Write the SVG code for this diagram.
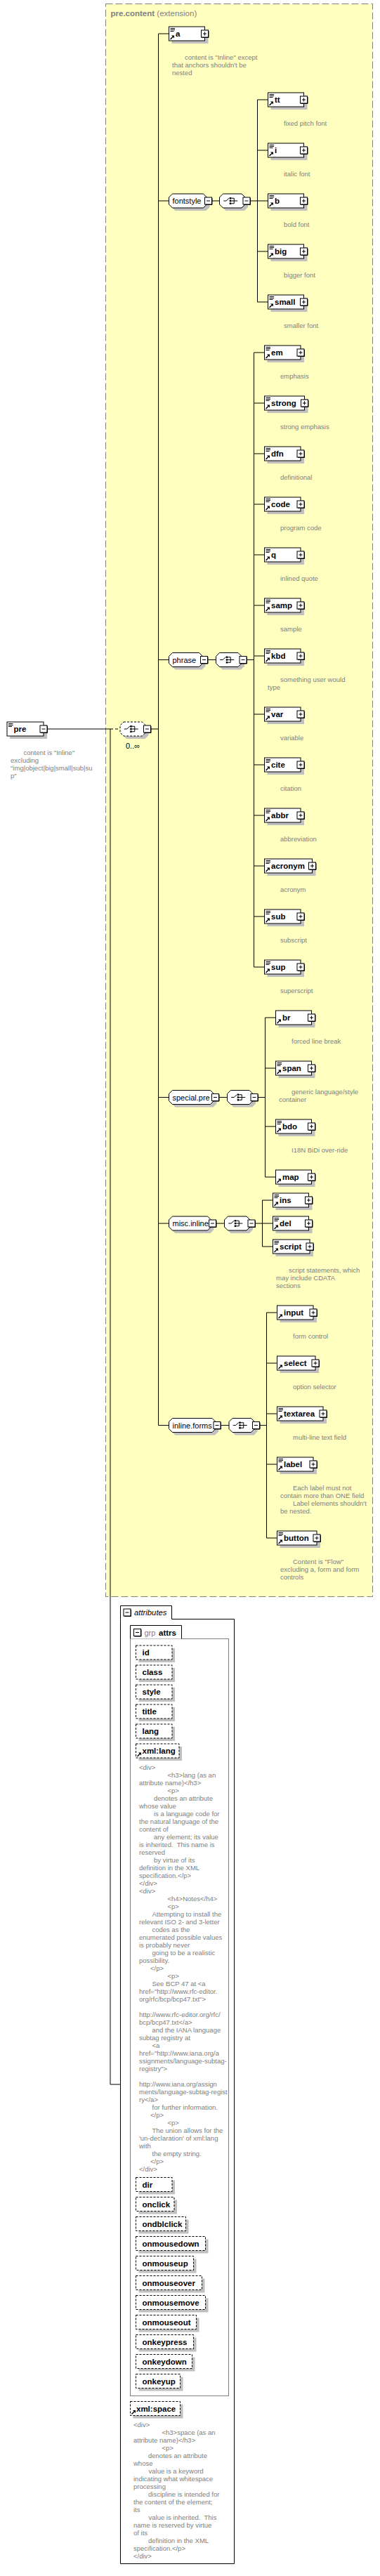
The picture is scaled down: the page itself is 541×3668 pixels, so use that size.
<svg xmlns="http://www.w3.org/2000/svg" width="541" height="3668" viewBox="0 0 541 3668">
<style>
.bg{fill:#fff}
.ybox{fill:#ffffc0;stroke:#808080;stroke-width:1;stroke-dasharray:10,4}
.box{fill:#fff;stroke:#000;stroke-width:1}
.shd{fill:#c0c0c0}
.att{fill:#fff;stroke:#000;stroke-width:1;stroke-dasharray:3,2}
.lbl{font-family:"Liberation Sans",Arial,sans-serif;font-size:11.5px;font-weight:bold;fill:#000}
.gl{font-family:"Liberation Sans",Arial,sans-serif;font-size:11px;fill:#000}
.ann{font-family:"Liberation Sans",Arial,sans-serif;font-size:9.5px;fill:#808080}
.ttl{font-family:"Liberation Sans",Arial,sans-serif;font-size:11.5px;fill:#808080}
.conn{fill:none;stroke:#000;stroke-width:1}
</style>
<defs>
<g id="eq"><path d="M2,2.5H8.5M2,4.5H8.5M2,6.5H7" stroke="#000" stroke-width="1" fill="none"/></g>
<g id="arr"><path d="M2,-2L5.5,-5.5" stroke="#000" stroke-width="1.5" fill="none"/><path d="M3.5,-7.5H7.5V-3.5Z" fill="#000"/></g>
<g id="plus"><rect x="0.5" y="0.5" width="10" height="10" fill="#fff" stroke="#000"/><path d="M11,1.5V11H1.5" stroke="#000" fill="none"/><path d="M3,5.5H8M5.5,3V8" stroke="#000" fill="none"/></g>
<g id="minus"><rect x="0.5" y="0.5" width="10" height="10" fill="#fff" stroke="#000"/><path d="M11,1.5V11H1.5" stroke="#000" fill="none"/><path d="M3,5.5H8" stroke="#000" fill="none"/></g>
<g id="chc"><path d="M-11,0H-7L-3,-4" stroke="#000" fill="none"/><rect x="-2.5" y="-5" width="2.5" height="2.5" fill="#000"/><rect x="-2.5" y="-1.25" width="2.5" height="2.5" fill="#000"/><rect x="-2.5" y="2.5" width="2.5" height="2.5" fill="#000"/><path d="M0,-3.75H4V3.75H0M0,0H9" stroke="#000" fill="none"/></g>
</defs>
<rect class="bg" x="0" y="0" width="541" height="3668"/>

<g id="pre.content">
<rect class="ybox" x="150.5" y="5.5" width="380" height="2268"/>
<text class="ttl" x="157.5" y="23"><tspan font-weight="bold">pre.content</tspan> (extension)</text>
</g>

<g id="connectors">
<path class="conn" d="M67,1038H157"/>
<path class="conn" d="M157,1038H171" stroke-dasharray="4,3"/>
<path class="conn" d="M157,1038V2968H171.5"/>
<path class="conn" d="M214.5,1038H225.5"/>
<path class="conn" d="M225.5,48V2029.5M225.5,48H240.5M225.5,286H240.5M225.5,939.5H240.5M225.5,1562.5H240.5M225.5,1742H240.5M225.5,2029.5H240.5"/>
<path class="conn" d="M301.5,286H312.5M356,286H366.5M366.5,142V430M366.5,142H381.5M366.5,214H381.5M366.5,286H381.5M366.5,358H381.5M366.5,430H381.5"/>
<path class="conn" d="M295.5,939.5H307.5M351,939.5H361.5M361.5,502V1377M361.5,502H376.5M361.5,574H376.5M361.5,646H376.5M361.5,718H376.5M361.5,790H376.5M361.5,862H376.5M361.5,934H376.5M361.5,1017H376.5M361.5,1089H376.5M361.5,1161H376.5M361.5,1233H376.5M361.5,1305H376.5M361.5,1377H376.5"/>
<path class="conn" d="M311.5,1562.5H323.5M367,1562.5H377.5M377.5,1449V1676M377.5,1449H392.5M377.5,1521H392.5M377.5,1604H392.5M377.5,1676H392.5"/>
<path class="conn" d="M307.5,1742H319.5M363,1742H373.5M373.5,1709V1775M373.5,1709H388.5M373.5,1742H388.5M373.5,1775H388.5"/>
<path class="conn" d="M314,2029.5H326M369.5,2029.5H379.5M379.5,1869V2190M379.5,1869H394.5M379.5,1941H394.5M379.5,2013H394.5M379.5,2085H394.5M379.5,2190H394.5"/>
</g>

<g id="pre">
<rect class="shd" x="14" y="1032" width="53" height="20"/>
<rect class="box" x="10" y="1028" width="52" height="20"/>
<use href="#eq" x="10" y="1028"/>
<text class="lbl" x="19.5" y="1042">pre</text>
<use href="#minus" x="56.5" y="1032.5"/>
<text class="ann" x="33.5" y="1075">content is "Inline"</text>
<text class="ann" x="15" y="1086">excluding</text>
<text class="ann" x="15" y="1097">"img|object|big|small|sub|su</text>
<text class="ann" x="15" y="1108">p"</text>
</g>

<g id="choice-main">
<polygon class="shd" transform="translate(4,4)" points="176,1028 202.5,1028 207.5,1033 207.5,1043 202.5,1048 176,1048 171,1043 171,1033"/>
<polygon class="box" stroke-dasharray="3,2" points="176,1028 202.5,1028 207.5,1033 207.5,1043 202.5,1048 176,1048 171,1043 171,1033"/>
<use href="#chc" x="187.75" y="1038"/>
<use href="#minus" x="204" y="1032.5"/>
<text class="gl" x="179" y="1066">0..∞</text>
</g>

<g id="a">
<rect class="shd" x="244.5" y="42" width="52" height="20"/>
<rect class="box" x="240.5" y="38" width="51" height="20"/>
<use href="#eq" x="240.5" y="38"/><use href="#arr" x="240.5" y="58"/>
<text class="lbl" x="250" y="52">a</text>
<use href="#plus" x="286" y="42.5"/>
<text class="ann" x="263" y="85">content is "Inline" except</text>
<text class="ann" x="245" y="96">that anchors shouldn't be</text>
<text class="ann" x="245" y="107">nested</text>
</g>

<g id="fontstyle">
<polygon class="shd" transform="translate(4,4)" points="245.5,276 289.5,276 294.5,281 294.5,291 289.5,296 245.5,296 240.5,291 240.5,281"/>
<polygon class="box" points="245.5,276 289.5,276 294.5,281 294.5,291 289.5,296 245.5,296 240.5,291 240.5,281"/>
<text class="gl" x="245.5" y="290">fontstyle</text>
<use href="#minus" x="291" y="280.5"/>
</g>
<g id="fontstyle-choice">
<polygon class="shd" transform="translate(4,4)" points="317.5,276 344,276 349,281 349,291 344,296 317.5,296 312.5,291 312.5,281"/>
<polygon class="box" points="317.5,276 344,276 349,281 349,291 344,296 317.5,296 312.5,291 312.5,281"/>
<use href="#chc" x="329.25" y="286"/>
<use href="#minus" x="345.5" y="280.5"/>
</g>

<g id="tt"><rect class="shd" x="385.5" y="136" width="52" height="20"/><rect class="box" x="381.5" y="132" width="51" height="20"/><use href="#eq" x="381.5" y="132"/><use href="#arr" x="381.5" y="152"/><text class="lbl" x="391" y="146">tt</text><use href="#plus" x="427" y="136.5"/><text class="ann" x="404" y="179">fixed pitch font</text></g>
<g id="i"><rect class="shd" x="385.5" y="208" width="52" height="20"/><rect class="box" x="381.5" y="204" width="51" height="20"/><use href="#eq" x="381.5" y="204"/><use href="#arr" x="381.5" y="224"/><text class="lbl" x="391" y="218">i</text><use href="#plus" x="427" y="208.5"/><text class="ann" x="404" y="251">italic font</text></g>
<g id="b"><rect class="shd" x="385.5" y="280" width="52" height="20"/><rect class="box" x="381.5" y="276" width="51" height="20"/><use href="#eq" x="381.5" y="276"/><use href="#arr" x="381.5" y="296"/><text class="lbl" x="391" y="290">b</text><use href="#plus" x="427" y="280.5"/><text class="ann" x="404" y="323">bold font</text></g>
<g id="big"><rect class="shd" x="385.5" y="352" width="52" height="20"/><rect class="box" x="381.5" y="348" width="51" height="20"/><use href="#eq" x="381.5" y="348"/><use href="#arr" x="381.5" y="368"/><text class="lbl" x="391" y="362">big</text><use href="#plus" x="427" y="352.5"/><text class="ann" x="404" y="395">bigger font</text></g>
<g id="small"><rect class="shd" x="385.5" y="424" width="52" height="20"/><rect class="box" x="381.5" y="420" width="51" height="20"/><use href="#eq" x="381.5" y="420"/><use href="#arr" x="381.5" y="440"/><text class="lbl" x="391" y="434">small</text><use href="#plus" x="427" y="424.5"/><text class="ann" x="404" y="467">smaller font</text></g>

<g id="phrase">
<polygon class="shd" transform="translate(4,4)" points="245.5,929.5 283.5,929.5 288.5,934.5 288.5,944.5 283.5,949.5 245.5,949.5 240.5,944.5 240.5,934.5"/>
<polygon class="box" points="245.5,929.5 283.5,929.5 288.5,934.5 288.5,944.5 283.5,949.5 245.5,949.5 240.5,944.5 240.5,934.5"/>
<text class="gl" x="245.5" y="943.5">phrase</text>
<use href="#minus" x="285" y="934"/>
</g>
<g id="phrase-choice">
<polygon class="shd" transform="translate(4,4)" points="312.5,929.5 339,929.5 344,934.5 344,944.5 339,949.5 312.5,949.5 307.5,944.5 307.5,934.5"/>
<polygon class="box" points="312.5,929.5 339,929.5 344,934.5 344,944.5 339,949.5 312.5,949.5 307.5,944.5 307.5,934.5"/>
<use href="#chc" x="324.25" y="939.5"/>
<use href="#minus" x="340.5" y="934"/>
</g>

<g id="em"><rect class="shd" x="380.5" y="496" width="52.5" height="20"/><rect class="box" x="376.5" y="492" width="51.5" height="20"/><use href="#eq" x="376.5" y="492"/><use href="#arr" x="376.5" y="512"/><text class="lbl" x="386" y="506">em</text><use href="#plus" x="422.5" y="496.5"/><text class="ann" x="399" y="539">emphasis</text></g>
<g id="strong"><rect class="shd" x="380.5" y="568" width="58" height="20"/><rect class="box" x="376.5" y="564" width="57" height="20"/><use href="#eq" x="376.5" y="564"/><use href="#arr" x="376.5" y="584"/><text class="lbl" x="386" y="578">strong</text><use href="#plus" x="428" y="568.5"/><text class="ann" x="399" y="611">strong emphasis</text></g>
<g id="dfn"><rect class="shd" x="380.5" y="640" width="52.5" height="20"/><rect class="box" x="376.5" y="636" width="51.5" height="20"/><use href="#eq" x="376.5" y="636"/><use href="#arr" x="376.5" y="656"/><text class="lbl" x="386" y="650">dfn</text><use href="#plus" x="422.5" y="640.5"/><text class="ann" x="399" y="683">definitional</text></g>
<g id="code"><rect class="shd" x="380.5" y="712" width="52.5" height="20"/><rect class="box" x="376.5" y="708" width="51.5" height="20"/><use href="#eq" x="376.5" y="708"/><use href="#arr" x="376.5" y="728"/><text class="lbl" x="386" y="722">code</text><use href="#plus" x="422.5" y="712.5"/><text class="ann" x="399" y="755">program code</text></g>
<g id="q"><rect class="shd" x="380.5" y="784" width="52.5" height="20"/><rect class="box" x="376.5" y="780" width="51.5" height="20"/><use href="#eq" x="376.5" y="780"/><use href="#arr" x="376.5" y="800"/><text class="lbl" x="386" y="794">q</text><use href="#plus" x="422.5" y="784.5"/><text class="ann" x="399" y="827">inlined quote</text></g>
<g id="samp"><rect class="shd" x="380.5" y="856" width="52.5" height="20"/><rect class="box" x="376.5" y="852" width="51.5" height="20"/><use href="#eq" x="376.5" y="852"/><use href="#arr" x="376.5" y="872"/><text class="lbl" x="386" y="866">samp</text><use href="#plus" x="422.5" y="856.5"/><text class="ann" x="399" y="899">sample</text></g>
<g id="kbd"><rect class="shd" x="380.5" y="928" width="52.5" height="20"/><rect class="box" x="376.5" y="924" width="51.5" height="20"/><use href="#eq" x="376.5" y="924"/><use href="#arr" x="376.5" y="944"/><text class="lbl" x="386" y="938">kbd</text><use href="#plus" x="422.5" y="928.5"/><text class="ann" x="399" y="971">something user would</text><text class="ann" x="381" y="982">type</text></g>
<g id="var"><rect class="shd" x="380.5" y="1011" width="52.5" height="20"/><rect class="box" x="376.5" y="1007" width="51.5" height="20"/><use href="#eq" x="376.5" y="1007"/><use href="#arr" x="376.5" y="1027"/><text class="lbl" x="386" y="1021">var</text><use href="#plus" x="422.5" y="1011.5"/><text class="ann" x="399" y="1054">variable</text></g>
<g id="cite"><rect class="shd" x="380.5" y="1083" width="52.5" height="20"/><rect class="box" x="376.5" y="1079" width="51.5" height="20"/><use href="#eq" x="376.5" y="1079"/><use href="#arr" x="376.5" y="1099"/><text class="lbl" x="386" y="1093">cite</text><use href="#plus" x="422.5" y="1083.5"/><text class="ann" x="399" y="1126">citation</text></g>
<g id="abbr"><rect class="shd" x="380.5" y="1155" width="52.5" height="20"/><rect class="box" x="376.5" y="1151" width="51.5" height="20"/><use href="#eq" x="376.5" y="1151"/><use href="#arr" x="376.5" y="1171"/><text class="lbl" x="386" y="1165">abbr</text><use href="#plus" x="422.5" y="1155.5"/><text class="ann" x="399" y="1198">abbreviation</text></g>
<g id="acronym"><rect class="shd" x="380.5" y="1227" width="69" height="20"/><rect class="box" x="376.5" y="1223" width="68" height="20"/><use href="#eq" x="376.5" y="1223"/><use href="#arr" x="376.5" y="1243"/><text class="lbl" x="386" y="1237">acronym</text><use href="#plus" x="439" y="1227.5"/><text class="ann" x="399" y="1270">acronym</text></g>
<g id="sub"><rect class="shd" x="380.5" y="1299" width="52.5" height="20"/><rect class="box" x="376.5" y="1295" width="51.5" height="20"/><use href="#eq" x="376.5" y="1295"/><use href="#arr" x="376.5" y="1315"/><text class="lbl" x="386" y="1309">sub</text><use href="#plus" x="422.5" y="1299.5"/><text class="ann" x="399" y="1342">subscript</text></g>
<g id="sup"><rect class="shd" x="380.5" y="1371" width="52.5" height="20"/><rect class="box" x="376.5" y="1367" width="51.5" height="20"/><use href="#eq" x="376.5" y="1367"/><use href="#arr" x="376.5" y="1387"/><text class="lbl" x="386" y="1381">sup</text><use href="#plus" x="422.5" y="1371.5"/><text class="ann" x="399" y="1414">superscript</text></g>

<g id="special.pre">
<polygon class="shd" transform="translate(4,4)" points="245.5,1552.5 299.5,1552.5 304.5,1557.5 304.5,1567.5 299.5,1572.5 245.5,1572.5 240.5,1567.5 240.5,1557.5"/>
<polygon class="box" points="245.5,1552.5 299.5,1552.5 304.5,1557.5 304.5,1567.5 299.5,1572.5 245.5,1572.5 240.5,1567.5 240.5,1557.5"/>
<text class="gl" x="245.5" y="1566.5">special.pre</text>
<use href="#minus" x="301" y="1557"/>
</g>
<g id="special.pre-choice">
<polygon class="shd" transform="translate(4,4)" points="328.5,1552.5 355,1552.5 360,1557.5 360,1567.5 355,1572.5 328.5,1572.5 323.5,1567.5 323.5,1557.5"/>
<polygon class="box" points="328.5,1552.5 355,1552.5 360,1557.5 360,1567.5 355,1572.5 328.5,1572.5 323.5,1567.5 323.5,1557.5"/>
<use href="#chc" x="340.25" y="1562.5"/>
<use href="#minus" x="356.5" y="1557"/>
</g>
<g id="br"><rect class="shd" x="396.5" y="1443" width="52" height="20"/><rect class="box" x="392.5" y="1439" width="51" height="20"/><use href="#arr" x="392.5" y="1459"/><text class="lbl" x="402" y="1453">br</text><use href="#plus" x="438" y="1443.5"/><text class="ann" x="415" y="1486">forced line break</text></g>
<g id="span"><rect class="shd" x="396.5" y="1515" width="52" height="20"/><rect class="box" x="392.5" y="1511" width="51" height="20"/><use href="#eq" x="392.5" y="1511"/><use href="#arr" x="392.5" y="1531"/><text class="lbl" x="402" y="1525">span</text><use href="#plus" x="438" y="1515.5"/><text class="ann" x="415" y="1558">generic language/style</text><text class="ann" x="397" y="1569">container</text></g>
<g id="bdo"><rect class="shd" x="396.5" y="1598" width="52" height="20"/><rect class="box" x="392.5" y="1594" width="51" height="20"/><use href="#eq" x="392.5" y="1594"/><use href="#arr" x="392.5" y="1614"/><text class="lbl" x="402" y="1608">bdo</text><use href="#plus" x="438" y="1598.5"/><text class="ann" x="415" y="1641">I18N BiDi over-ride</text></g>
<g id="map"><rect class="shd" x="396.5" y="1670" width="52" height="20"/><rect class="box" x="392.5" y="1666" width="51" height="20"/><use href="#arr" x="392.5" y="1686"/><text class="lbl" x="402" y="1680">map</text><use href="#plus" x="438" y="1670.5"/></g>

<g id="misc.inline">
<polygon class="shd" transform="translate(4,4)" points="245.5,1732 295.5,1732 300.5,1737 300.5,1747 295.5,1752 245.5,1752 240.5,1747 240.5,1737"/>
<polygon class="box" points="245.5,1732 295.5,1732 300.5,1737 300.5,1747 295.5,1752 245.5,1752 240.5,1747 240.5,1737"/>
<text class="gl" x="245.5" y="1746">misc.inline</text>
<use href="#minus" x="297" y="1736.5"/>
</g>
<g id="misc.inline-choice">
<polygon class="shd" transform="translate(4,4)" points="324.5,1732 351,1732 356,1737 356,1747 351,1752 324.5,1752 319.5,1747 319.5,1737"/>
<polygon class="box" points="324.5,1732 351,1732 356,1737 356,1747 351,1752 324.5,1752 319.5,1747 319.5,1737"/>
<use href="#chc" x="336.25" y="1742"/>
<use href="#minus" x="352.5" y="1736.5"/>
</g>
<g id="ins"><rect class="shd" x="392.5" y="1703" width="52" height="20"/><rect class="box" x="388.5" y="1699" width="51" height="20"/><use href="#eq" x="388.5" y="1699"/><use href="#arr" x="388.5" y="1719"/><text class="lbl" x="398" y="1713">ins</text><use href="#plus" x="434" y="1703.5"/></g>
<g id="del"><rect class="shd" x="392.5" y="1736" width="52" height="20"/><rect class="box" x="388.5" y="1732" width="51" height="20"/><use href="#eq" x="388.5" y="1732"/><use href="#arr" x="388.5" y="1752"/><text class="lbl" x="398" y="1746">del</text><use href="#plus" x="434" y="1736.5"/></g>
<g id="script"><rect class="shd" x="392.5" y="1769" width="53.5" height="20"/><rect class="box" x="388.5" y="1765" width="52.5" height="20"/><use href="#eq" x="388.5" y="1765"/><use href="#arr" x="388.5" y="1785"/><text class="lbl" x="398" y="1779">script</text><use href="#plus" x="435.5" y="1769.5"/><text class="ann" x="411" y="1812">script statements, which</text><text class="ann" x="393" y="1823">may include CDATA</text><text class="ann" x="393" y="1834">sections</text></g>

<g id="inline.forms">
<polygon class="shd" transform="translate(4,4)" points="245.5,2019.5 302,2019.5 307,2024.5 307,2034.5 302,2039.5 245.5,2039.5 240.5,2034.5 240.5,2024.5"/>
<polygon class="box" points="245.5,2019.5 302,2019.5 307,2024.5 307,2034.5 302,2039.5 245.5,2039.5 240.5,2034.5 240.5,2024.5"/>
<text class="gl" x="245.5" y="2033.5">inline.forms</text>
<use href="#minus" x="303.5" y="2024"/>
</g>
<g id="inline.forms-choice">
<polygon class="shd" transform="translate(4,4)" points="331,2019.5 357.5,2019.5 362.5,2024.5 362.5,2034.5 357.5,2039.5 331,2039.5 326,2034.5 326,2024.5"/>
<polygon class="box" points="331,2019.5 357.5,2019.5 362.5,2024.5 362.5,2034.5 357.5,2039.5 331,2039.5 326,2034.5 326,2024.5"/>
<use href="#chc" x="342.75" y="2029.5"/>
<use href="#minus" x="359" y="2024"/>
</g>
<g id="input"><rect class="shd" x="398.5" y="1863" width="52.5" height="20"/><rect class="box" x="394.5" y="1859" width="51.5" height="20"/><use href="#arr" x="394.5" y="1879"/><text class="lbl" x="404" y="1873">input</text><use href="#plus" x="440.5" y="1863.5"/><text class="ann" x="417" y="1906">form control</text></g>
<g id="select"><rect class="shd" x="398.5" y="1935" width="55.5" height="20"/><rect class="box" x="394.5" y="1931" width="54.5" height="20"/><use href="#arr" x="394.5" y="1951"/><text class="lbl" x="404" y="1945">select</text><use href="#plus" x="443.5" y="1935.5"/><text class="ann" x="417" y="1978">option selector</text></g>
<g id="textarea"><rect class="shd" x="398.5" y="2007" width="66.5" height="20"/><rect class="box" x="394.5" y="2003" width="65.5" height="20"/><use href="#eq" x="394.5" y="2003"/><use href="#arr" x="394.5" y="2023"/><text class="lbl" x="404" y="2017">textarea</text><use href="#plus" x="454.5" y="2007.5"/><text class="ann" x="417" y="2050">multi-line text field</text></g>
<g id="label"><rect class="shd" x="398.5" y="2079" width="52.5" height="20"/><rect class="box" x="394.5" y="2075" width="51.5" height="20"/><use href="#eq" x="394.5" y="2075"/><use href="#arr" x="394.5" y="2095"/><text class="lbl" x="404" y="2089">label</text><use href="#plus" x="440.5" y="2079.5"/><text class="ann" x="417" y="2122">Each label must not</text><text class="ann" x="399" y="2133">contain more than ONE field</text><text class="ann" x="417" y="2144">Label elements shouldn't</text><text class="ann" x="399" y="2155">be nested.</text></g>
<g id="button"><rect class="shd" x="398.5" y="2184" width="57.5" height="20"/><rect class="box" x="394.5" y="2180" width="56.5" height="20"/><use href="#eq" x="394.5" y="2180"/><use href="#arr" x="394.5" y="2200"/><text class="lbl" x="404" y="2194">button</text><use href="#plus" x="445.5" y="2184.5"/><text class="ann" x="417" y="2227">Content is "Flow"</text><text class="ann" x="399" y="2238">excluding a, form and form</text><text class="ann" x="399" y="2249">controls</text></g>

<g id="attributes">
<path d="M171.5,2305.5V2286.5H244.5V2305.5H333.5V3650.5H171.5Z" fill="#fff" stroke="#000"/>
<use href="#minus" x="175.5" y="2290.5"/>
<text x="191" y="2300" font-family="Liberation Sans, Arial, sans-serif" font-size="11.3" font-style="italic" fill="#000">attributes</text>
</g>
<g id="attrs">
<rect x="185.5" y="2333.5" width="140" height="1078" fill="#fff" stroke="#808080"/>
<path d="M185.5,2333.5V2314.5H258.5V2333.5" fill="#fff" stroke="#000"/>
<use href="#minus" x="190" y="2319"/>
<text x="205.5" y="2328.5" font-family="Liberation Sans, Arial, sans-serif" font-size="11" fill="#808080">grp</text>
<text class="lbl" x="226" y="2328.5">attrs</text>
</g>

<g id="att-id"><rect class="shd" x="197.5" y="2347" width="51.5" height="20"/><rect class="att" x="193.5" y="2343" width="51.5" height="20"/><text class="lbl" x="202.5" y="2357">id</text></g>
<g id="att-class"><rect class="shd" x="197.5" y="2375" width="51.5" height="20"/><rect class="att" x="193.5" y="2371" width="51.5" height="20"/><text class="lbl" x="202.5" y="2385">class</text></g>
<g id="att-style"><rect class="shd" x="197.5" y="2403" width="51.5" height="20"/><rect class="att" x="193.5" y="2399" width="51.5" height="20"/><text class="lbl" x="202.5" y="2413">style</text></g>
<g id="att-title"><rect class="shd" x="197.5" y="2431" width="51.5" height="20"/><rect class="att" x="193.5" y="2427" width="51.5" height="20"/><text class="lbl" x="202.5" y="2441">title</text></g>
<g id="att-lang"><rect class="shd" x="197.5" y="2459" width="51.5" height="20"/><rect class="att" x="193.5" y="2455" width="51.5" height="20"/><text class="lbl" x="202.5" y="2469">lang</text></g>
<g id="att-xml-lang"><rect class="shd" x="197.5" y="2487" width="61.5" height="20"/><rect class="att" x="193.5" y="2483" width="61.5" height="20"/><use href="#arr" x="193.5" y="2503"/><text class="lbl" x="202.5" y="2497">xml:lang</text>
<g class="ann">
<text x="198" y="2519.5">&lt;div&gt;</text>
<text x="238.5" y="2530.5">&lt;h3&gt;lang (as an</text>
<text x="198" y="2541.5">attribute name)&lt;/h3&gt;</text>
<text x="238.5" y="2552.5">&lt;p&gt;</text>
<text x="219" y="2563.5">denotes an attribute</text>
<text x="198" y="2574.5">whose value</text>
<text x="219" y="2585.5">is a language code for</text>
<text x="198" y="2596.5">the natural language of the</text>
<text x="198" y="2607.5">content of</text>
<text x="219" y="2618.5">any element; its value</text>
<text x="198" y="2629.5" xml:space="preserve">is inherited.  This name is</text>
<text x="198" y="2640.5">reserved</text>
<text x="219" y="2651.5">by virtue of its</text>
<text x="198" y="2662.5">definition in the XML</text>
<text x="198" y="2673.5">specification.&lt;/p&gt;</text>
<text x="198" y="2684.5">&lt;/div&gt;</text>
<text x="198" y="2695.5">&lt;div&gt;</text>
<text x="238.5" y="2706.5">&lt;h4&gt;Notes&lt;/h4&gt;</text>
<text x="238.5" y="2717.5">&lt;p&gt;</text>
<text x="216.5" y="2728.5">Attempting to install the</text>
<text x="198" y="2739.5">relevant ISO 2- and 3-letter</text>
<text x="216.5" y="2750.5">codes as the</text>
<text x="198" y="2761.5">enumerated possible values</text>
<text x="198" y="2772.5">is probably never</text>
<text x="216.5" y="2783.5">going to be a realistic</text>
<text x="198" y="2794.5">possibility.</text>
<text x="214" y="2805.5">&lt;/p&gt;</text>
<text x="238.5" y="2816.5">&lt;p&gt;</text>
<text x="216.5" y="2827.5">See BCP 47 at &lt;a</text>
<text x="198" y="2838.5">href="http://www.rfc-editor.</text>
<text x="198" y="2849.5">org/rfc/bcp/bcp47.txt"&gt;</text>
<text x="198" y="2871.5">http://www.rfc-editor.org/rfc/</text>
<text x="198" y="2882.5">bcp/bcp47.txt&lt;/a&gt;</text>
<text x="216.5" y="2893.5">and the IANA language</text>
<text x="198" y="2904.5">subtag registry at</text>
<text x="216.5" y="2915.5">&lt;a</text>
<text x="198" y="2926.5">href="http://www.iana.org/a</text>
<text x="198" y="2937.5">ssignments/language-subtag-</text>
<text x="198" y="2948.5">registry"&gt;</text>
<text x="198" y="2970.5">http://www.iana.org/assign</text>
<text x="198" y="2981.5">ments/language-subtag-regist</text>
<text x="198" y="2992.5">ry&lt;/a&gt;</text>
<text x="216.5" y="3003.5">for further information.</text>
<text x="214" y="3014.5">&lt;/p&gt;</text>
<text x="238.5" y="3025.5">&lt;p&gt;</text>
<text x="216.5" y="3036.5">The union allows for the</text>
<text x="198" y="3047.5">'un-declaration' of xml:lang</text>
<text x="198" y="3058.5">with</text>
<text x="216.5" y="3069.5">the empty string.</text>
<text x="214" y="3080.5">&lt;/p&gt;</text>
<text x="198" y="3091.5">&lt;/div&gt;</text>
</g>
</g>
<g id="att-dir"><rect class="shd" x="197.5" y="3104.5" width="51.5" height="20"/><rect class="att" x="193.5" y="3100.5" width="51.5" height="20"/><text class="lbl" x="202.5" y="3114.5">dir</text></g>
<g id="att-onclick"><rect class="shd" x="197.5" y="3132.5" width="54.5" height="20"/><rect class="att" x="193.5" y="3128.5" width="54.5" height="20"/><text class="lbl" x="202.5" y="3142.5">onclick</text></g>
<g id="att-ondblclick"><rect class="shd" x="197.5" y="3160.5" width="71" height="20"/><rect class="att" x="193.5" y="3156.5" width="71" height="20"/><text class="lbl" x="202.5" y="3170.5">ondblclick</text></g>
<g id="att-onmousedown"><rect class="shd" x="197.5" y="3188.5" width="99" height="20"/><rect class="att" x="193.5" y="3184.5" width="99" height="20"/><text class="lbl" x="202.5" y="3198.5">onmousedown</text></g>
<g id="att-onmouseup"><rect class="shd" x="197.5" y="3216.5" width="82" height="20"/><rect class="att" x="193.5" y="3212.5" width="82" height="20"/><text class="lbl" x="202.5" y="3226.5">onmouseup</text></g>
<g id="att-onmouseover"><rect class="shd" x="197.5" y="3244.5" width="94" height="20"/><rect class="att" x="193.5" y="3240.5" width="94" height="20"/><text class="lbl" x="202.5" y="3254.5">onmouseover</text></g>
<g id="att-onmousemove"><rect class="shd" x="197.5" y="3272.5" width="99" height="20"/><rect class="att" x="193.5" y="3268.5" width="99" height="20"/><text class="lbl" x="202.5" y="3282.5">onmousemove</text></g>
<g id="att-onmouseout"><rect class="shd" x="197.5" y="3300.5" width="86" height="20"/><rect class="att" x="193.5" y="3296.5" width="86" height="20"/><text class="lbl" x="202.5" y="3310.5">onmouseout</text></g>
<g id="att-onkeypress"><rect class="shd" x="197.5" y="3328.5" width="82" height="20"/><rect class="att" x="193.5" y="3324.5" width="82" height="20"/><text class="lbl" x="202.5" y="3338.5">onkeypress</text></g>
<g id="att-onkeydown"><rect class="shd" x="197.5" y="3356.5" width="80" height="20"/><rect class="att" x="193.5" y="3352.5" width="80" height="20"/><text class="lbl" x="202.5" y="3366.5">onkeydown</text></g>
<g id="att-onkeyup"><rect class="shd" x="197.5" y="3384.5" width="63" height="20"/><rect class="att" x="193.5" y="3380.5" width="63" height="20"/><text class="lbl" x="202.5" y="3394.5">onkeyup</text></g>

<g id="att-xml-space"><rect class="shd" x="189.5" y="3423.5" width="71" height="20"/><rect class="att" x="185.5" y="3419.5" width="71" height="20"/><use href="#arr" x="185.5" y="3439.5"/><text class="lbl" x="194" y="3433.5">xml:space</text>
<g class="ann">
<text x="190" y="3455.5">&lt;div&gt;</text>
<text x="230.5" y="3466.5">&lt;h3&gt;space (as an</text>
<text x="190" y="3477.5">attribute name)&lt;/h3&gt;</text>
<text x="230.5" y="3488.5">&lt;p&gt;</text>
<text x="211" y="3499.5">denotes an attribute</text>
<text x="190" y="3510.5">whose</text>
<text x="211.5" y="3521.5">value is a keyword</text>
<text x="190" y="3532.5">indicating what whitespace</text>
<text x="190" y="3543.5">processing</text>
<text x="211" y="3554.5">discipline is intended for</text>
<text x="190" y="3565.5">the content of the element;</text>
<text x="190" y="3576.5">its</text>
<text x="211.5" y="3587.5" xml:space="preserve">value is inherited.  This</text>
<text x="190" y="3598.5">name is reserved by virtue</text>
<text x="190" y="3609.5">of its</text>
<text x="211" y="3620.5">definition in the XML</text>
<text x="190" y="3631.5">specification.&lt;/p&gt;</text>
<text x="190" y="3642.5">&lt;/div&gt;</text>
</g>
</g>
</svg>
